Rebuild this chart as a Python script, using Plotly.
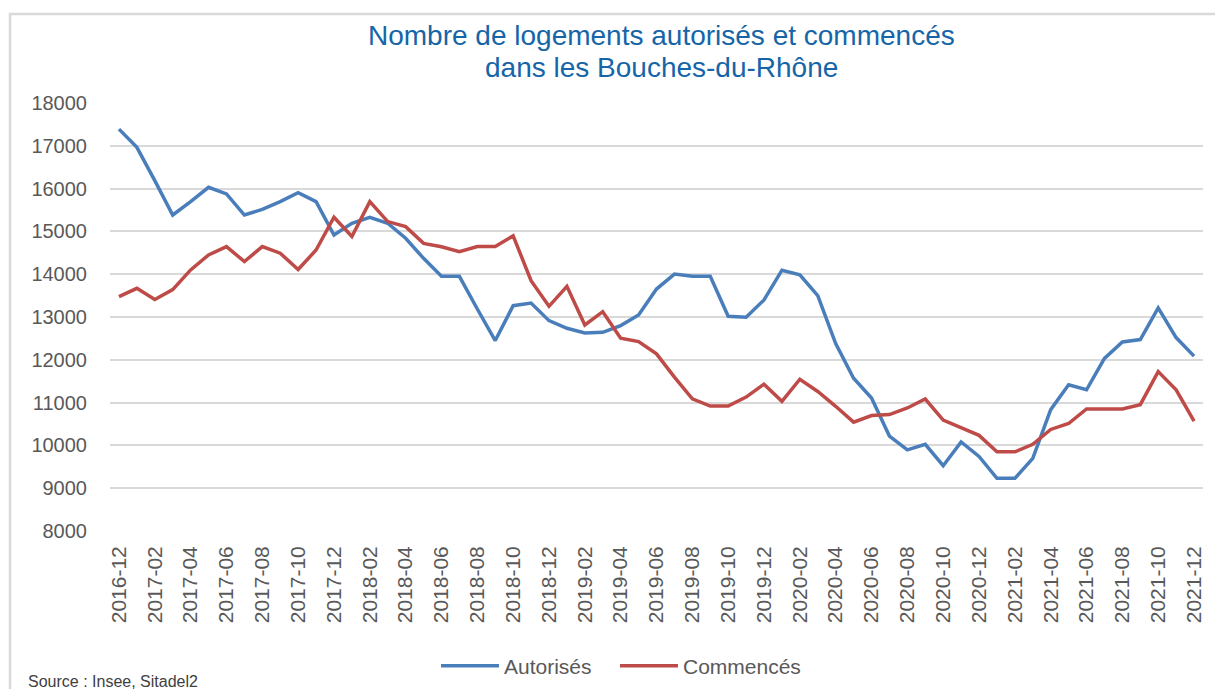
import plotly.graph_objects as go

months = [f"{y}-{m:02d}" for y in range(2016, 2022) for m in range(1, 13)]
months = months[11:]  # 2016-12 .. 2021-12

autorises = [17390, 16965, 16185, 15383, 15695, 16030, 15875, 15383, 15515, 15695,
             15905, 15695, 14915, 15190, 15330, 15190, 14840, 14370, 13950, 13950,
             13187, 12450, 13265, 13327, 12915, 12737, 12628, 12643, 12800, 13047,
             13653, 14003, 13950, 13950, 13016, 12993, 13400, 14093, 13985, 13498,
             12380, 11569, 11106, 10219, 9895, 10026, 9525, 10080, 9741, 9231,
             9231, 9695, 10836, 11415, 11300, 12032, 12418, 12472, 13213, 12519,
             12086]

commences = [13475, 13670, 13410, 13640, 14100, 14450, 14645, 14295, 14645, 14490,
             14110, 14565, 15330, 14880, 15695, 15230, 15110, 14720, 14640, 14524,
             14648, 14648, 14897, 13848, 13250, 13716, 12814, 13125, 12503, 12426,
             12138, 11594, 11089, 10918, 10918, 11128, 11430, 11029, 11546, 11261,
             10914, 10543, 10697, 10720, 10875, 11083, 10590, 10412, 10235, 9849,
             9849, 10026, 10373, 10512, 10852, 10852, 10852, 10952, 11724, 11300,
             10566]

tick_labels = months[::2]
y_ticks = list(range(8000, 18001, 1000))
title_lines = ["Nombre de logements autorisés et commencés", "dans les Bouches-du-Rhône"]

# the page body has an 8px margin: figure coordinates = page coordinates - 8
OFF = 8
W, H = 1207, 681
L, R, T, B = 110 - OFF, W - (1203 - OFF), 103 - OFF, H - (531 - OFF)
PW, PH = W - L - R, H - T - B


def px_x(x):
    return (x - OFF - L) / PW


def px_y(y):
    return 1 - (y - OFF - T) / PH


fig = go.Figure()
fig.add_trace(go.Scatter(x=months, y=autorises, mode="lines", name="Autorisés",
                         line=dict(color="#4A7EBB", width=3.5), legend="legend"))
fig.add_trace(go.Scatter(x=months, y=commences, mode="lines", name="Commencés",
                         line=dict(color="#BE4B48", width=3.5), legend="legend2"))

legend_common = dict(orientation="h", xref="container", yref="container",
                     xanchor="left", yanchor="middle", y=1 - (666 - OFF) / H,
                     font=dict(size=21, color="#595959"), itemwidth=58, tracegroupgap=0,
                     bgcolor="rgba(0,0,0,0)")

fig.update_layout(
    width=W, height=H,
    margin=dict(l=L, r=R, t=T, b=B, autoexpand=False),
    paper_bgcolor="white", plot_bgcolor="white",
    font=dict(family="Liberation Sans, Arial, sans-serif", color="#595959"),
    xaxis=dict(type="category", categoryorder="array", categoryarray=months,
               tickvals=tick_labels, ticktext=tick_labels, tickangle=-90,
               range=[-0.5, len(months) - 0.5], automargin=False,
               showgrid=False, showline=False, ticks="", ticklabelstandoff=10,
               tickfont=dict(size=21, color="#595959")),
    yaxis=dict(range=[8000, 18000], tickvals=y_ticks, tickformat="d", showgrid=True,
               gridcolor="#D9D9D9", gridwidth=1.5, zeroline=False, ticks="",
               ticklabelstandoff=22, automargin=False,
               tickfont=dict(size=20, color="#595959")),
    legend=dict(legend_common, x=(436 - OFF) / W),
    legend2=dict(legend_common, x=(615 - OFF) / W),
    showlegend=True,
)

for line, yc in zip(title_lines, [35, 67]):
    fig.add_annotation(text=line, xref="paper", yref="paper",
                       x=px_x(661), xanchor="center", y=px_y(yc), yanchor="middle",
                       showarrow=False,
                       font=dict(family="Liberation Sans, Arial, sans-serif", size=28, color="#1565A8"))

# outer border of the chart frame
fig.add_shape(type="rect", xref="paper", yref="paper",
              x0=px_x(10), x1=px_x(1240), y0=px_y(720), y1=px_y(14),
              line=dict(color="#D9D9D9", width=2.5), fillcolor="rgba(0,0,0,0)", layer="below")

fig.add_annotation(text="Source : Insee, Sitadel2", xref="paper", yref="paper",
                   x=px_x(26), xanchor="left", y=px_y(681), yanchor="middle",
                   showarrow=False, font=dict(size=16, color="#404040"))

fig.write_html("out.html")
